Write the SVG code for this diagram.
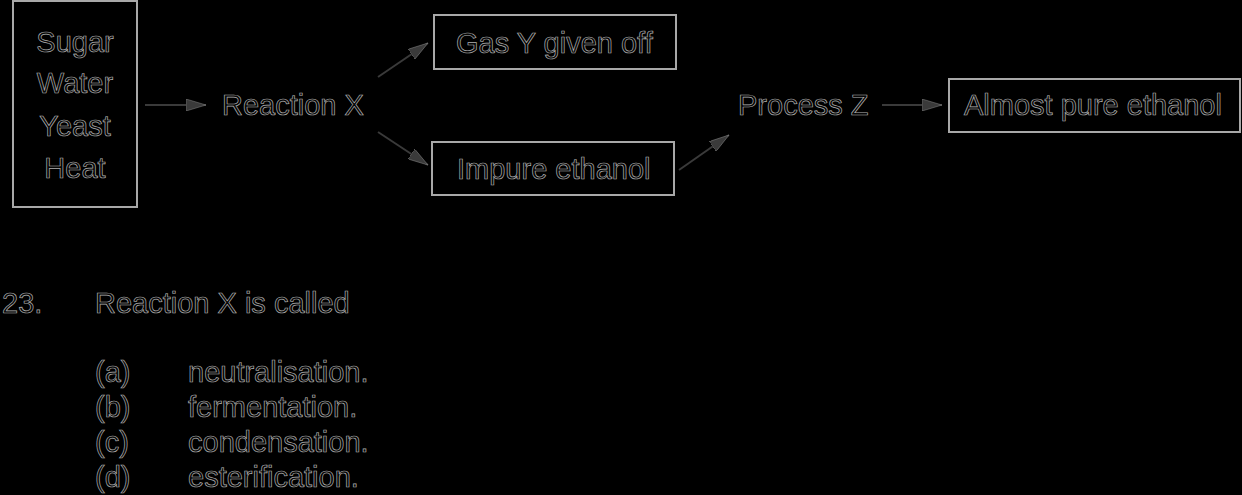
<svg xmlns="http://www.w3.org/2000/svg" width="1242" height="495" viewBox="0 0 1242 495">
<style>
text{font-family:"Liberation Sans",Arial,sans-serif;font-size:29px;fill:#050505;stroke:#b0b0b0;stroke-width:0.7px}
.box{fill:none;stroke:#a8a8a8;stroke-width:2}
.conn{stroke:#3a3a3a;stroke-width:2;fill:none}
</style>
<defs>
<marker id="ah" viewBox="0 0 20 12" refX="20" refY="6" markerWidth="20" markerHeight="12" markerUnits="userSpaceOnUse" orient="auto">
<path d="M0,0 L20,6 L0,12 Z" fill="#3a3a3a" stroke="#888" stroke-width="0.5"/>
</marker>
</defs>
<rect x="0" y="0" width="1242" height="495" fill="#000"/>
<g id="inputs">
<rect class="box" x="13" y="1" width="124" height="206"/>
<text x="75" y="52" text-anchor="middle">Sugar</text>
<text x="75" y="93" text-anchor="middle">Water</text>
<text x="75" y="136" text-anchor="middle">Yeast</text>
<text x="75" y="178" text-anchor="middle">Heat</text>
</g>
<g id="reactionX">
<text x="222" y="115">Reaction X</text>
</g>
<g id="gasY">
<rect class="box" x="434" y="15" width="242" height="54"/>
<text x="456" y="53">Gas Y given off</text>
</g>
<g id="impure">
<rect class="box" x="432" y="142" width="242" height="53"/>
<text x="457" y="179">Impure ethanol</text>
</g>
<g id="processZ">
<text x="738" y="115">Process Z</text>
</g>
<g id="pure">
<rect class="box" x="949" y="79" width="291" height="53"/>
<text x="964" y="115">Almost pure ethanol</text>
</g>
<g id="connectors">
<line class="conn" x1="145" y1="105" x2="206" y2="105" marker-end="url(#ah)"/>
<line class="conn" x1="378" y1="77" x2="428" y2="43" marker-end="url(#ah)"/>
<line class="conn" x1="378" y1="132" x2="428" y2="165" marker-end="url(#ah)"/>
<line class="conn" x1="679" y1="170" x2="729" y2="135" marker-end="url(#ah)"/>
<line class="conn" x1="882" y1="105" x2="942" y2="105" marker-end="url(#ah)"/>
</g>
<g id="question">
<text x="2" y="313">23.</text>
<text x="95" y="313">Reaction X is called</text>
<text x="95" y="382">(a)</text>
<text x="188" y="382">neutralisation.</text>
<text x="95" y="417">(b)</text>
<text x="188" y="417">fermentation.</text>
<text x="95" y="452">(c)</text>
<text x="188" y="452">condensation.</text>
<text x="95" y="487">(d)</text>
<text x="188" y="487">esterification.</text>
</g>
</svg>
